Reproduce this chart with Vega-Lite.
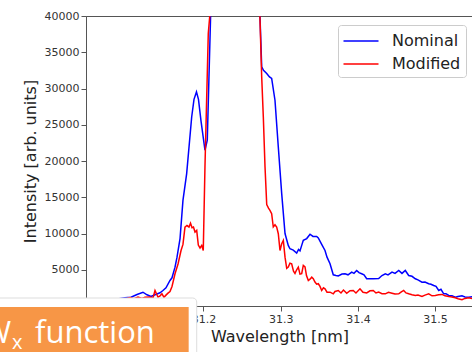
{
  "$schema": "https://vega.github.io/schema/vega-lite/v6.json",
  "width": 387,
  "height": 290,
  "autosize": {"type": "none"},
  "padding": {"left": 86, "top": 16, "right": 0, "bottom": 46},
  "background": "white",
  "config": {
    "view": {"stroke": "#555", "strokeWidth": 1},
    "font": "DejaVu Sans",
    "axis": {
      "labelFont": "DejaVu Sans", "labelFontSize": 11, "labelColor": "#333",
      "titleFont": "DejaVu Sans", "titleFontSize": 16, "titleFontWeight": "normal", "titleColor": "#222",
      "domainColor": "#555", "tickColor": "#555", "tickSize": 5, "grid": false, "labelPadding": 2
    }
  },
  "datasets": {
    "spec": [
      {"wl":31.0478,"I":700,"s":"Nominal"},{"wl":31.0659,"I":800,"s":"Nominal"},{"wl":31.0867,"I":940,"s":"Nominal"},{"wl":31.0983,"I":1130,"s":"Nominal"},{"wl":31.1061,"I":1215,"s":"Nominal"},{"wl":31.1139,"I":1590,"s":"Nominal"},{"wl":31.1216,"I":1900,"s":"Nominal"},{"wl":31.1268,"I":1550,"s":"Nominal"},{"wl":31.1320,"I":1310,"s":"Nominal"},{"wl":31.1372,"I":1550,"s":"Nominal"},{"wl":31.1437,"I":1820,"s":"Nominal"},{"wl":31.1475,"I":2140,"s":"Nominal"},{"wl":31.1514,"I":2510,"s":"Nominal"},{"wl":31.1566,"I":3520,"s":"Nominal"},{"wl":31.1592,"I":3890,"s":"Nominal"},{"wl":31.1631,"I":5360,"s":"Nominal"},{"wl":31.1657,"I":6740,"s":"Nominal"},{"wl":31.1696,"I":9300,"s":"Nominal"},{"wl":31.1734,"I":14570,"s":"Nominal"},{"wl":31.1782,"I":18260,"s":"Nominal"},{"wl":31.1847,"I":26070,"s":"Nominal"},{"wl":31.1877,"I":28500,"s":"Nominal"},{"wl":31.1909,"I":29530,"s":"Nominal"},{"wl":31.1935,"I":28500,"s":"Nominal"},{"wl":31.1968,"I":25500,"s":"Nominal"},{"wl":31.2019,"I":21480,"s":"Nominal"},{"wl":31.2049,"I":22860,"s":"Nominal"},{"wl":31.2097,"I":42000,"s":"Nominal"},{"wl":31.2408,"I":150000,"s":"Nominal"},{"wl":31.2725,"I":42000,"s":"Nominal"},{"wl":31.2754,"I":32980,"s":"Nominal"},{"wl":31.2777,"I":32500,"s":"Nominal"},{"wl":31.2819,"I":32070,"s":"Nominal"},{"wl":31.2855,"I":31600,"s":"Nominal"},{"wl":31.2883,"I":31380,"s":"Nominal"},{"wl":31.2926,"I":28380,"s":"Nominal"},{"wl":31.2969,"I":21930,"s":"Nominal"},{"wl":31.3013,"I":15500,"s":"Nominal"},{"wl":31.3056,"I":10000,"s":"Nominal"},{"wl":31.3098,"I":8360,"s":"Nominal"},{"wl":31.3120,"I":7900,"s":"Nominal"},{"wl":31.3163,"I":7700,"s":"Nominal"},{"wl":31.3207,"I":7300,"s":"Nominal"},{"wl":31.3231,"I":7800,"s":"Nominal"},{"wl":31.3250,"I":7600,"s":"Nominal"},{"wl":31.3272,"I":8360,"s":"Nominal"},{"wl":31.3293,"I":9050,"s":"Nominal"},{"wl":31.3337,"I":9300,"s":"Nominal"},{"wl":31.3380,"I":9900,"s":"Nominal"},{"wl":31.3418,"I":9600,"s":"Nominal"},{"wl":31.3466,"I":9600,"s":"Nominal"},{"wl":31.3487,"I":9400,"s":"Nominal"},{"wl":31.3531,"I":8500,"s":"Nominal"},{"wl":31.3574,"I":7660,"s":"Nominal"},{"wl":31.3600,"I":6740,"s":"Nominal"},{"wl":31.3639,"I":5830,"s":"Nominal"},{"wl":31.3681,"I":4300,"s":"Nominal"},{"wl":31.3716,"I":4210,"s":"Nominal"},{"wl":31.3746,"I":4150,"s":"Nominal"},{"wl":31.3794,"I":4400,"s":"Nominal"},{"wl":31.3833,"I":4450,"s":"Nominal"},{"wl":31.3872,"I":4300,"s":"Nominal"},{"wl":31.3920,"I":4670,"s":"Nominal"},{"wl":31.3949,"I":4500,"s":"Nominal"},{"wl":31.3984,"I":4900,"s":"Nominal"},{"wl":31.4014,"I":4600,"s":"Nominal"},{"wl":31.4049,"I":4450,"s":"Nominal"},{"wl":31.4079,"I":4300,"s":"Nominal"},{"wl":31.4114,"I":3760,"s":"Nominal"},{"wl":31.4157,"I":3760,"s":"Nominal"},{"wl":31.4199,"I":3760,"s":"Nominal"},{"wl":31.4269,"I":3800,"s":"Nominal"},{"wl":31.4312,"I":4200,"s":"Nominal"},{"wl":31.4355,"I":4450,"s":"Nominal"},{"wl":31.4390,"I":4300,"s":"Nominal"},{"wl":31.4442,"I":4670,"s":"Nominal"},{"wl":31.4481,"I":4500,"s":"Nominal"},{"wl":31.4529,"I":4900,"s":"Nominal"},{"wl":31.4571,"I":4500,"s":"Nominal"},{"wl":31.4614,"I":4900,"s":"Nominal"},{"wl":31.4658,"I":4210,"s":"Nominal"},{"wl":31.4701,"I":4100,"s":"Nominal"},{"wl":31.4744,"I":3760,"s":"Nominal"},{"wl":31.4778,"I":3600,"s":"Nominal"},{"wl":31.4830,"I":3290,"s":"Nominal"},{"wl":31.4869,"I":3300,"s":"Nominal"},{"wl":31.4917,"I":3070,"s":"Nominal"},{"wl":31.4947,"I":3000,"s":"Nominal"},{"wl":31.4982,"I":2830,"s":"Nominal"},{"wl":31.5012,"I":2700,"s":"Nominal"},{"wl":31.5047,"I":2140,"s":"Nominal"},{"wl":31.5076,"I":2300,"s":"Nominal"},{"wl":31.5111,"I":1680,"s":"Nominal"},{"wl":31.5141,"I":1700,"s":"Nominal"},{"wl":31.5176,"I":1450,"s":"Nominal"},{"wl":31.5219,"I":1400,"s":"Nominal"},{"wl":31.5262,"I":1215,"s":"Nominal"},{"wl":31.5297,"I":1300,"s":"Nominal"},{"wl":31.5348,"I":1400,"s":"Nominal"},{"wl":31.5387,"I":1250,"s":"Nominal"},{"wl":31.5435,"I":1215,"s":"Nominal"},{"wl":31.5491,"I":1300,"s":"Nominal"},
      {"wl":31.0478,"I":600,"s":"Modified"},{"wl":31.0659,"I":700,"s":"Modified"},{"wl":31.0867,"I":900,"s":"Modified"},{"wl":31.0944,"I":1000,"s":"Modified"},{"wl":31.1009,"I":1050,"s":"Modified"},{"wl":31.1048,"I":1170,"s":"Modified"},{"wl":31.1100,"I":1000,"s":"Modified"},{"wl":31.1152,"I":1250,"s":"Modified"},{"wl":31.1203,"I":1050,"s":"Modified"},{"wl":31.1242,"I":1215,"s":"Modified"},{"wl":31.1307,"I":1240,"s":"Modified"},{"wl":31.1346,"I":1100,"s":"Modified"},{"wl":31.1372,"I":2140,"s":"Modified"},{"wl":31.1411,"I":1215,"s":"Modified"},{"wl":31.1437,"I":1400,"s":"Modified"},{"wl":31.1462,"I":1680,"s":"Modified"},{"wl":31.1488,"I":1200,"s":"Modified"},{"wl":31.1514,"I":1500,"s":"Modified"},{"wl":31.1540,"I":1770,"s":"Modified"},{"wl":31.1566,"I":2000,"s":"Modified"},{"wl":31.1592,"I":2690,"s":"Modified"},{"wl":31.1631,"I":4450,"s":"Modified"},{"wl":31.1670,"I":5800,"s":"Modified"},{"wl":31.1709,"I":7660,"s":"Modified"},{"wl":31.1734,"I":8500,"s":"Modified"},{"wl":31.1760,"I":10880,"s":"Modified"},{"wl":31.1786,"I":11100,"s":"Modified"},{"wl":31.1812,"I":10900,"s":"Modified"},{"wl":31.1832,"I":11430,"s":"Modified"},{"wl":31.1851,"I":10800,"s":"Modified"},{"wl":31.1870,"I":10900,"s":"Modified"},{"wl":31.1890,"I":10200,"s":"Modified"},{"wl":31.1912,"I":10430,"s":"Modified"},{"wl":31.1933,"I":8400,"s":"Modified"},{"wl":31.1955,"I":8000,"s":"Modified"},{"wl":31.1977,"I":8360,"s":"Modified"},{"wl":31.1997,"I":7660,"s":"Modified"},{"wl":31.2019,"I":19170,"s":"Modified"},{"wl":31.2062,"I":37590,"s":"Modified"},{"wl":31.2097,"I":42000,"s":"Modified"},{"wl":31.2408,"I":150000,"s":"Modified"},{"wl":31.2725,"I":42000,"s":"Modified"},{"wl":31.2754,"I":31600,"s":"Modified"},{"wl":31.2775,"I":26070,"s":"Modified"},{"wl":31.2797,"I":19170,"s":"Modified"},{"wl":31.2819,"I":14000,"s":"Modified"},{"wl":31.2842,"I":13500,"s":"Modified"},{"wl":31.2861,"I":13190,"s":"Modified"},{"wl":31.2883,"I":12730,"s":"Modified"},{"wl":31.2904,"I":10900,"s":"Modified"},{"wl":31.2926,"I":11200,"s":"Modified"},{"wl":31.2948,"I":10880,"s":"Modified"},{"wl":31.2969,"I":9970,"s":"Modified"},{"wl":31.2991,"I":7660,"s":"Modified"},{"wl":31.3013,"I":8590,"s":"Modified"},{"wl":31.3034,"I":9050,"s":"Modified"},{"wl":31.3056,"I":6740,"s":"Modified"},{"wl":31.3078,"I":5200,"s":"Modified"},{"wl":31.3098,"I":5360,"s":"Modified"},{"wl":31.3120,"I":5900,"s":"Modified"},{"wl":31.3142,"I":5830,"s":"Modified"},{"wl":31.3166,"I":4800,"s":"Modified"},{"wl":31.3185,"I":4500,"s":"Modified"},{"wl":31.3207,"I":5000,"s":"Modified"},{"wl":31.3228,"I":5360,"s":"Modified"},{"wl":31.3250,"I":4400,"s":"Modified"},{"wl":31.3272,"I":4450,"s":"Modified"},{"wl":31.3293,"I":5590,"s":"Modified"},{"wl":31.3315,"I":5400,"s":"Modified"},{"wl":31.3334,"I":4200,"s":"Modified"},{"wl":31.3358,"I":3520,"s":"Modified"},{"wl":31.3380,"I":3700,"s":"Modified"},{"wl":31.3402,"I":3980,"s":"Modified"},{"wl":31.3422,"I":3760,"s":"Modified"},{"wl":31.3444,"I":3300,"s":"Modified"},{"wl":31.3466,"I":3000,"s":"Modified"},{"wl":31.3487,"I":3070,"s":"Modified"},{"wl":31.3509,"I":2700,"s":"Modified"},{"wl":31.3531,"I":2140,"s":"Modified"},{"wl":31.3554,"I":2500,"s":"Modified"},{"wl":31.3574,"I":2370,"s":"Modified"},{"wl":31.3600,"I":1900,"s":"Modified"},{"wl":31.3639,"I":1910,"s":"Modified"},{"wl":31.3681,"I":1680,"s":"Modified"},{"wl":31.3703,"I":2000,"s":"Modified"},{"wl":31.3746,"I":2140,"s":"Modified"},{"wl":31.3781,"I":1800,"s":"Modified"},{"wl":31.3813,"I":2200,"s":"Modified"},{"wl":31.3855,"I":1750,"s":"Modified"},{"wl":31.3898,"I":2100,"s":"Modified"},{"wl":31.3940,"I":2140,"s":"Modified"},{"wl":31.3975,"I":1800,"s":"Modified"},{"wl":31.4027,"I":2370,"s":"Modified"},{"wl":31.4066,"I":1900,"s":"Modified"},{"wl":31.4114,"I":1800,"s":"Modified"},{"wl":31.4157,"I":2100,"s":"Modified"},{"wl":31.4199,"I":2140,"s":"Modified"},{"wl":31.4234,"I":1800,"s":"Modified"},{"wl":31.4269,"I":1910,"s":"Modified"},{"wl":31.4312,"I":1700,"s":"Modified"},{"wl":31.4355,"I":1680,"s":"Modified"},{"wl":31.4396,"I":1900,"s":"Modified"},{"wl":31.4442,"I":1770,"s":"Modified"},{"wl":31.4481,"I":1650,"s":"Modified"},{"wl":31.4529,"I":1680,"s":"Modified"},{"wl":31.4558,"I":1900,"s":"Modified"},{"wl":31.4593,"I":2140,"s":"Modified"},{"wl":31.4623,"I":1800,"s":"Modified"},{"wl":31.4658,"I":1680,"s":"Modified"},{"wl":31.4701,"I":1550,"s":"Modified"},{"wl":31.4744,"I":1450,"s":"Modified"},{"wl":31.4778,"I":1500,"s":"Modified"},{"wl":31.4830,"I":1310,"s":"Modified"},{"wl":31.4869,"I":1500,"s":"Modified"},{"wl":31.4917,"I":1680,"s":"Modified"},{"wl":31.4960,"I":1400,"s":"Modified"},{"wl":31.5003,"I":1450,"s":"Modified"},{"wl":31.5044,"I":1550,"s":"Modified"},{"wl":31.5089,"I":1600,"s":"Modified"},{"wl":31.5128,"I":1400,"s":"Modified"},{"wl":31.5176,"I":1310,"s":"Modified"},{"wl":31.5219,"I":1250,"s":"Modified"},{"wl":31.5262,"I":1130,"s":"Modified"},{"wl":31.5297,"I":1000,"s":"Modified"},{"wl":31.5348,"I":860,"s":"Modified"},{"wl":31.5387,"I":1050,"s":"Modified"},{"wl":31.5435,"I":1130,"s":"Modified"},{"wl":31.5491,"I":1000,"s":"Modified"}
    ]
  },
  "layer": [
    {
      "data": {"name": "spec"},
      "mark": {"type": "line", "clip": true, "strokeWidth": 1.5, "interpolate": "linear"},
      "encoding": {
        "x": {"field": "wl", "type": "quantitative", "title": "Wavelength [nm]",
              "scale": {"domain": [31.0478, 31.5491], "nice": false, "zero": false},
              "axis": {"values": [31.2, 31.3, 31.4, 31.5], "format": ".1f", "titlePadding": 4}},
        "y": {"field": "I", "type": "quantitative", "title": "Intensity [arb. units]",
              "scale": {"domain": [0, 40000], "nice": false, "zero": false},
              "axis": {"values": [5000, 10000, 15000, 20000, 25000, 30000, 35000, 40000], "format": "d", "titlePadding": 6}},
        "color": {"field": "s", "type": "nominal",
                  "scale": {"domain": ["Nominal", "Modified"], "range": ["#0000ff", "#ff0000"]},
                  "legend": {"title": null, "orient": "none", "legendX": 252, "legendY": 9,
                             "symbolType": "M-1.75,0H1.75", "symbolSize": 400, "symbolStrokeWidth": 1.5, "symbolOffset": 7,
                             "labelFontSize": 16, "labelFont": "DejaVu Sans", "labelColor": "#222",
                             "padding": 5, "strokeColor": "#cccccc", "fillColor": "white", "cornerRadius": 3,
                             "rowPadding": 4, "labelOffset": 20}},
        "order": {"field": "wl", "type": "quantitative"}
      }
    },
    {
      "data": {"values": [{"x1": 30.90, "x2": 31.1912, "y1": 1103, "y2": -7000}]},
      "mark": {"type": "rect", "fill": "white", "stroke": "#dddddd", "strokeWidth": 1, "cornerRadius": 4},
      "encoding": {
        "x": {"field": "x1", "type": "quantitative", "title": "Wavelength [nm]", "scale": {"domain": [31.0478, 31.5491], "nice": false, "zero": false}},
        "x2": {"field": "x2"},
        "y": {"field": "y1", "type": "quantitative", "title": "Intensity [arb. units]", "scale": {"domain": [0, 40000], "nice": false, "zero": false}},
        "y2": {"field": "y2"}
      }
    },
    {
      "data": {"values": [{"x1": 30.90, "x2": 31.1808, "y1": -138, "y2": -7000}]},
      "mark": {"type": "rect", "fill": "#f79646"},
      "encoding": {
        "x": {"field": "x1", "type": "quantitative", "title": "Wavelength [nm]", "scale": {"domain": [31.0478, 31.5491], "nice": false, "zero": false}},
        "x2": {"field": "x2"},
        "y": {"field": "y1", "type": "quantitative", "title": "Intensity [arb. units]", "scale": {"domain": [0, 40000], "nice": false, "zero": false}},
        "y2": {"field": "y2"}
      }
    },
    {
      "data": {"values": [{"wl": 30.9507, "I": -5103, "t": "W"}]},
      "mark": {"type": "text", "font": "Open Sans", "fontSize": 31, "fill": "white", "align": "right", "baseline": "alphabetic"},
      "encoding": {
        "x": {"field": "wl", "type": "quantitative", "title": "Wavelength [nm]", "scale": {"domain": [31.0478, 31.5491], "nice": false, "zero": false}},
        "y": {"field": "I", "type": "quantitative", "title": "Intensity [arb. units]", "scale": {"domain": [0, 40000], "nice": false, "zero": false}},
        "text": {"field": "t"}
      }
    },
    {
      "data": {"values": [{"wl": 30.9817, "I": -5103, "t": "function"}]},
      "mark": {"type": "text", "font": "Open Sans", "fontSize": 31, "fill": "white", "align": "left", "baseline": "alphabetic"},
      "encoding": {
        "x": {"field": "wl", "type": "quantitative", "title": "Wavelength [nm]", "scale": {"domain": [31.0478, 31.5491], "nice": false, "zero": false}},
        "y": {"field": "I", "type": "quantitative", "title": "Intensity [arb. units]", "scale": {"domain": [0, 40000], "nice": false, "zero": false}},
        "text": {"field": "t"}
      }
    },
    {
      "data": {"values": [{"wl": 30.9519, "I": -5931, "t": "x"}]},
      "mark": {"type": "text", "font": "Open Sans", "fontSize": 20, "fill": "white", "align": "left", "baseline": "alphabetic"},
      "encoding": {
        "x": {"field": "wl", "type": "quantitative", "title": "Wavelength [nm]", "scale": {"domain": [31.0478, 31.5491], "nice": false, "zero": false}},
        "y": {"field": "I", "type": "quantitative", "title": "Intensity [arb. units]", "scale": {"domain": [0, 40000], "nice": false, "zero": false}},
        "text": {"field": "t"}
      }
    }
  ]
}
